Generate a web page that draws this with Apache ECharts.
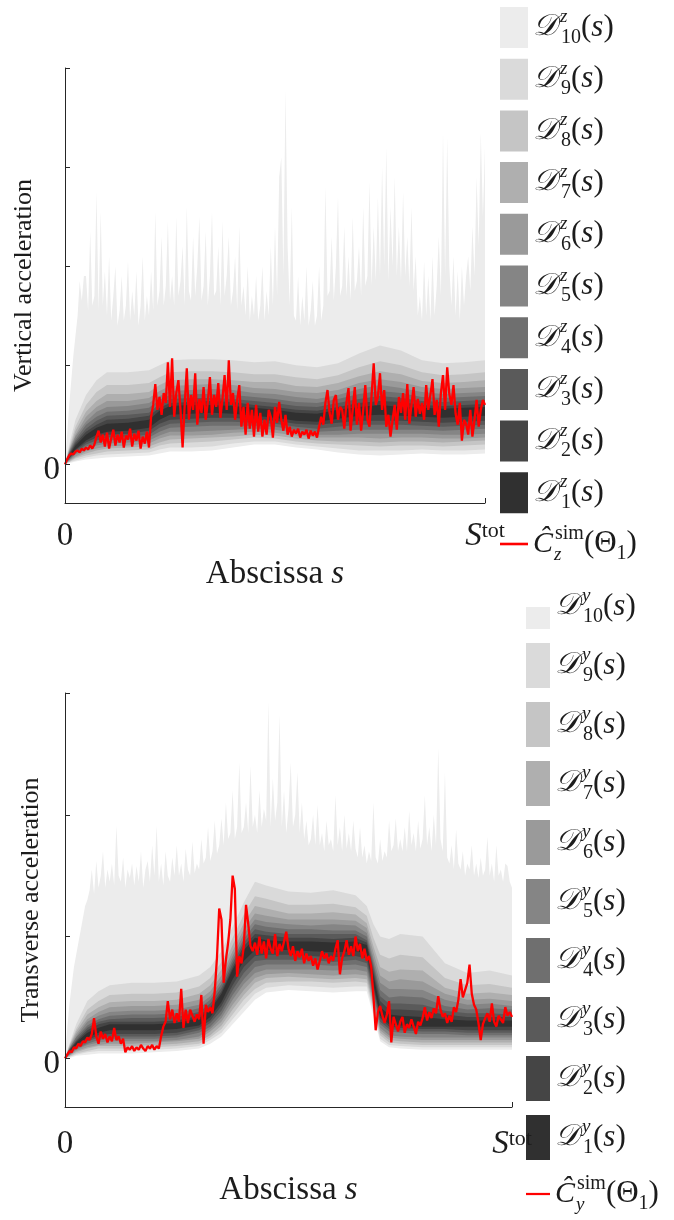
<!DOCTYPE html>
<html><head><meta charset="utf-8">
<script src="https://cdn.jsdelivr.net/npm/echarts@6/dist/echarts.min.js"></script>
<style>html,body{margin:0;padding:0;background:#fff}#c{width:674px;height:1220px}</style>
</head><body><div id="c"></div>
<script>
// ---------- data : top panel (vertical, z) ----------
const knotsZ = [0,1,2.5,5,7.5,10,15,20,22.5,25,30,35,40,45,50,55,60,65,70,75,80,85,90,95,100];
const U1z = [0,.09,.19,.30,.37,.41,.42,.45,.54,.59,.60,.60,.59,.57,.55,.52,.51,.55,.58,.60,.58,.57,.56,.57,.58];
const U2z = [0,.10,.21,.33,.40,.45,.46,.49,.57,.62,.63,.64,.63,.60,.58,.55,.54,.58,.62,.64,.63,.60,.59,.60,.61];
const U3z = [0,.11,.23,.36,.44,.49,.50,.52,.61,.66,.67,.67,.66,.64,.62,.59,.58,.62,.66,.69,.67,.64,.63,.64,.65];
const U4z = [0,.12,.25,.40,.48,.53,.54,.57,.65,.70,.71,.71,.70,.68,.66,.63,.62,.66,.71,.74,.72,.68,.67,.68,.69];
const U5z = [0,.13,.28,.43,.53,.58,.59,.62,.69,.74,.75,.76,.75,.72,.71,.68,.66,.70,.76,.80,.77,.73,.71,.72,.73];
const U6z = [0,.14,.30,.48,.58,.64,.64,.67,.74,.79,.80,.81,.80,.77,.76,.73,.72,.75,.82,.86,.83,.78,.76,.77,.78];
const U7z = [0,.15,.34,.53,.64,.71,.71,.73,.80,.85,.86,.86,.85,.83,.83,.79,.78,.82,.89,.94,.91,.84,.82,.83,.85];
const U8z = [0,.17,.38,.60,.73,.80,.80,.82,.88,.93,.94,.94,.93,.91,.91,.88,.86,.90,.98,1.04,1.00,.93,.90,.91,.93];
const U9z = [0,.20,.45,.70,.85,.93,.93,.95,1.00,1.05,1.06,1.06,1.05,1.03,1.04,1.00,.98,1.02,1.12,1.20,1.15,1.05,1.02,1.03,1.05];
const L1z = [0,.07,.15,.24,.30,.33,.34,.37,.45,.50,.51,.52,.51,.49,.47,.44,.43,.46,.49,.50,.49,.48,.47,.48,.49];
const L2z = [0,.06,.14,.22,.27,.30,.31,.34,.41,.45,.46,.47,.47,.45,.44,.41,.40,.42,.44,.44,.44,.43,.42,.43,.44];
const L3z = [0,.06,.12,.20,.24,.27,.28,.30,.37,.41,.42,.43,.43,.42,.41,.38,.36,.38,.40,.40,.40,.39,.38,.39,.40];
const L4z = [0,.05,.11,.18,.21,.24,.25,.27,.33,.37,.38,.39,.39,.39,.38,.35,.33,.34,.35,.35,.35,.35,.34,.35,.36];
const L5z = [0,.04,.10,.15,.19,.21,.22,.24,.29,.33,.33,.34,.35,.36,.35,.32,.30,.30,.31,.31,.31,.31,.30,.30,.31];
const L6z = [0,.04,.08,.13,.16,.18,.19,.21,.26,.29,.29,.30,.32,.33,.32,.29,.27,.27,.27,.26,.27,.27,.26,.26,.27];
const L7z = [0,.03,.07,.11,.14,.16,.17,.18,.22,.25,.26,.27,.28,.30,.29,.26,.24,.23,.23,.22,.23,.23,.22,.23,.24];
const L8z = [0,.02,.06,.09,.11,.13,.14,.15,.19,.21,.22,.23,.25,.27,.26,.23,.21,.20,.19,.18,.19,.19,.18,.19,.20];
const L9z = [0,.02,.04,.07,.09,.10,.11,.12,.15,.17,.17,.18,.21,.23,.23,.20,.18,.16,.14,.14,.14,.15,.14,.14,.15];
const L10z = [0,.01,.03,.05,.06,.07,.08,.09,.11,.13,.13,.14,.17,.20,.20,.17,.15,.12,.10,.09,.10,.11,.10,.10,.11];
// outer envelope of D10 (fine grid, step 0.5 of s)
const U10z = [
0,0.3,0.6,0.85,1.1,1.3,1.5,1.85,1.65,1.9,
1.9,1.55,2.35,1.6,1.7,2.75,1.55,2.55,1.6,1.95,
1.5,2.1,1.45,1.7,2.0,1.4,1.55,1.9,1.45,1.6,
2.05,1.45,1.75,1.5,1.95,1.4,1.6,2.1,1.45,1.7,
1.5,1.95,1.55,2.55,1.6,1.75,2.3,1.6,1.8,2.45,
1.65,1.9,1.6,2.5,1.7,1.85,2.2,1.6,2.6,1.75,
1.65,2.3,1.7,2.0,2.5,1.65,1.8,2.35,1.6,1.9,
2.55,1.7,1.75,2.2,1.6,2.45,1.7,1.9,2.3,1.6,
1.75,2.1,1.55,2.4,1.6,1.8,1.5,2.0,1.45,1.7,
1.5,1.9,1.45,1.6,2.0,1.45,1.75,1.5,2.2,1.6,
2.4,1.7,2.9,3.1,1.9,3.78,2.2,1.6,2.6,1.5,
1.45,1.9,1.4,1.7,1.45,2.0,1.4,1.55,1.85,1.4,
1.5,2.0,1.45,1.6,2.8,1.7,1.75,2.3,1.65,2.0,
2.7,1.7,1.8,2.4,1.7,2.1,1.65,2.5,1.75,1.85,
2.2,1.7,2.6,1.8,1.9,2.85,1.8,2.4,1.85,2.7,
1.9,3.0,2.0,3.2,1.85,2.6,2.0,2.9,1.9,2.4,
1.85,2.75,1.9,2.3,1.8,2.6,1.75,2.1,1.5,1.7,
1.45,2.05,1.5,1.9,1.45,2.1,1.5,1.8,2.3,1.7,
3.35,1.9,3.3,2.0,1.6,2.1,1.5,1.95,1.45,2.0,
1.6,1.9,2.1,1.75,2.4,1.9,2.9,2.2,3.35,2.5,
3.2];
const redZ = [
0.00,0.05,0.09,0.11,0.10,0.13,0.14,0.12,0.16,0.14,
0.17,0.15,0.19,0.16,0.20,0.28,0.34,0.22,0.30,0.18,
0.32,0.16,0.26,0.35,0.19,0.30,0.22,0.33,0.17,0.29,
0.25,0.36,0.18,0.31,0.24,0.34,0.16,0.28,0.21,0.33,
0.17,0.48,0.60,0.81,0.55,0.68,0.50,0.72,0.62,1.03,
0.58,1.07,0.48,0.72,0.85,0.55,0.17,0.60,0.97,0.45,
0.70,0.55,0.92,0.40,0.66,0.52,0.78,0.45,0.63,0.88,
0.50,0.70,0.58,0.82,0.47,0.66,0.90,0.55,1.05,0.60,
0.72,0.45,0.65,0.80,0.38,0.58,0.30,0.62,0.36,0.55,
0.28,0.60,0.33,0.52,0.28,0.45,0.30,0.55,0.48,0.27,
0.58,0.42,0.63,0.45,0.34,0.50,0.30,0.38,0.28,0.35,
0.31,0.36,0.27,0.33,0.30,0.35,0.26,0.34,0.29,0.33,
0.27,0.38,0.48,0.40,0.62,0.75,0.52,0.41,0.65,0.70,
0.45,0.58,0.55,0.36,0.62,0.77,0.34,0.55,0.78,0.40,
0.62,0.34,0.55,0.80,0.45,0.38,0.70,1.02,0.60,0.68,
0.92,0.55,0.75,0.38,0.50,0.28,0.45,0.60,0.35,0.68,
0.52,0.72,0.45,0.81,0.41,0.60,0.78,0.48,0.66,0.51,
0.62,0.45,0.80,0.55,0.70,0.86,0.50,0.65,0.38,0.72,
0.90,0.55,0.98,0.71,0.60,0.80,0.51,0.40,0.62,0.24,
0.45,0.41,0.30,0.55,0.28,0.45,0.65,0.38,0.55,0.65,
0.60];

// ---------- data : bottom panel (transverse, y) ----------
const knotsY = [0,1,2.5,5,7.5,10,15,20,25,30,32.5,35,37.5,40,42.5,45,50,55,60,65,67.5,69,70.5,72.5,75,80,85,90,95,100];
const U1y = [0,.06,.13,.21,.25,.28,.28,.28,.29,.33,.40,.53,.73,.89,.99,.97,.96,.96,.95,.96,.93,.68,.42,.36,.35,.34,.32,.31,.31,.31];
const U2y = [0,.07,.14,.23,.28,.30,.30,.30,.31,.35,.42,.55,.75,.92,1.02,1.01,.99,.99,.98,.99,.95,.71,.47,.40,.40,.39,.36,.34,.34,.34];
const U3y = [0,.07,.15,.25,.30,.32,.33,.33,.34,.38,.45,.58,.78,.95,1.06,1.04,1.02,1.02,1.02,1.02,.97,.75,.51,.45,.45,.44,.39,.37,.37,.36];
const U4y = [0,.08,.17,.27,.32,.35,.36,.36,.37,.41,.48,.61,.81,.98,1.10,1.08,1.06,1.06,1.05,1.05,1.00,.78,.56,.50,.51,.50,.43,.40,.41,.40];
const U5y = [0,.08,.18,.30,.35,.38,.39,.39,.40,.44,.51,.64,.84,1.02,1.14,1.12,1.10,1.09,1.10,1.09,1.03,.82,.62,.57,.57,.56,.48,.44,.45,.43];
const U6y = [0,.09,.20,.32,.38,.42,.43,.43,.44,.48,.55,.68,.88,1.06,1.19,1.17,1.14,1.14,1.14,1.13,1.07,.87,.68,.63,.65,.63,.53,.48,.49,.47];
const U7y = [0,.10,.22,.36,.42,.46,.47,.47,.48,.53,.60,.73,.93,1.11,1.25,1.23,1.19,1.19,1.20,1.18,1.11,.92,.75,.71,.73,.72,.58,.53,.54,.52];
const U8y = [0,.11,.24,.40,.47,.52,.53,.53,.54,.59,.66,.79,.99,1.18,1.33,1.31,1.26,1.26,1.27,1.24,1.17,.99,.85,.82,.85,.83,.66,.60,.61,.58];
const U9y = [0,.12,.28,.47,.55,.60,.62,.62,.63,.68,.75,.88,1.08,1.28,1.45,1.42,1.37,1.36,1.38,1.34,1.25,1.10,1.00,.98,1.02,1.00,.78,.70,.72,.68];
const L1y = [0,.05,.11,.17,.21,.23,.23,.23,.24,.27,.34,.46,.65,.80,.89,.89,.89,.88,.87,.88,.86,.61,.35,.28,.27,.26,.26,.26,.26,.26];
const L2y = [0,.05,.10,.15,.19,.20,.20,.20,.21,.25,.31,.43,.60,.75,.84,.85,.85,.84,.83,.84,.82,.58,.33,.26,.25,.24,.24,.23,.23,.23];
const L3y = [0,.04,.09,.14,.17,.18,.18,.18,.19,.23,.29,.39,.56,.70,.80,.81,.81,.81,.79,.81,.78,.55,.30,.24,.23,.22,.22,.21,.21,.21];
const L4y = [0,.03,.08,.12,.15,.16,.16,.16,.17,.21,.26,.36,.52,.65,.75,.77,.77,.77,.76,.77,.75,.52,.28,.22,.21,.20,.20,.19,.19,.19];
const L5y = [0,.03,.07,.11,.13,.14,.14,.14,.15,.18,.24,.33,.48,.61,.70,.73,.73,.73,.72,.73,.71,.49,.25,.19,.18,.17,.17,.17,.17,.17];
const L6y = [0,.02,.06,.09,.11,.12,.12,.13,.14,.16,.22,.30,.44,.56,.66,.69,.70,.69,.68,.69,.68,.46,.23,.17,.16,.15,.15,.15,.15,.15];
const L7y = [0,.02,.05,.08,.10,.10,.10,.11,.12,.14,.19,.27,.40,.52,.62,.66,.67,.66,.65,.66,.65,.44,.21,.15,.14,.13,.13,.13,.13,.13];
const L8y = [0,.01,.04,.06,.08,.08,.08,.09,.10,.12,.17,.24,.36,.48,.57,.62,.63,.63,.62,.63,.62,.41,.19,.13,.12,.11,.11,.11,.11,.11];
const L9y = [0,.01,.03,.05,.06,.06,.06,.07,.08,.10,.15,.21,.32,.43,.53,.58,.60,.59,.58,.59,.59,.38,.16,.11,.10,.09,.09,.09,.09,.09];
const L10y = [0,0,.02,.03,.04,.04,.04,.05,.06,.08,.12,.18,.28,.38,.48,.54,.56,.55,.54,.55,.55,.35,.14,.09,.08,.07,.07,.07,.07,.07];
const U10y = [
0,0.25,0.45,0.6,0.75,0.85,0.95,1.05,1.15,1.25,
1.3,1.38,1.55,1.35,1.62,1.4,1.5,1.7,1.4,1.55,
1.45,1.6,1.42,1.91,1.5,1.45,1.65,1.4,1.55,1.48,
1.6,1.42,1.58,1.45,1.7,1.4,1.55,1.62,1.45,1.75,
1.5,1.91,1.45,1.6,1.42,1.7,1.5,1.45,1.65,1.5,
1.75,1.5,1.6,1.45,1.72,1.55,1.5,1.78,1.52,1.6,
1.55,1.8,1.6,1.65,1.9,1.62,1.7,1.95,1.68,1.75,
1.97,1.75,2.1,1.8,1.85,2.2,1.8,1.9,2.43,1.85,
1.9,2.1,1.85,2.4,1.9,2.0,1.85,2.2,1.9,2.05,
1.95,2.93,1.9,2.3,1.95,2.1,2.82,1.9,2.2,1.85,
2.05,2.43,1.9,2.0,2.35,1.85,2.1,1.8,1.95,1.75,
1.8,2.0,1.75,2.08,1.75,1.85,1.7,1.95,1.75,1.8,
1.7,2.16,1.75,1.9,1.7,2.0,1.72,1.85,1.7,1.95,
1.72,1.65,1.9,1.65,1.75,1.6,1.7,1.62,2.1,1.65,
1.6,1.8,1.62,1.7,1.65,1.95,1.7,1.75,1.97,1.7,
1.8,1.7,1.9,1.7,2.03,1.75,1.85,1.7,1.95,1.72,
1.8,2.16,1.75,1.9,1.7,2.0,1.75,2.55,1.8,1.7,
2.35,1.65,1.6,1.75,1.55,1.88,1.6,1.55,1.7,1.5,
1.6,1.55,1.75,1.5,1.6,1.48,1.65,1.5,1.55,1.82,
1.5,1.6,1.45,1.75,1.5,1.55,1.45,1.6,1.58,1.45,
1.4];
const redY = [
0.00,0.03,0.06,0.05,0.09,0.08,0.12,0.10,0.14,0.13,
0.17,0.15,0.20,0.33,0.18,0.12,0.22,0.16,0.20,0.13,
0.18,0.14,0.25,0.15,0.18,0.12,0.16,0.05,0.09,0.07,
0.10,0.06,0.09,0.07,0.11,0.08,0.06,0.10,0.08,0.11,
0.07,0.10,0.08,0.18,0.26,0.30,0.47,0.32,0.40,0.29,
0.37,0.30,0.57,0.25,0.40,0.29,0.40,0.35,0.30,0.36,
0.32,0.52,0.12,0.44,0.38,0.42,0.37,0.55,0.83,1.23,
1.14,0.62,0.81,0.95,1.14,1.50,1.39,0.67,0.84,0.78,
0.92,1.26,1.10,0.92,0.88,0.95,0.85,1.00,0.86,0.96,
0.82,0.98,0.90,0.86,1.02,0.84,0.94,0.88,0.96,1.04,
0.90,0.84,0.92,0.80,0.88,0.83,0.90,0.78,0.86,0.80,
0.84,0.76,0.82,0.73,0.80,0.88,0.82,0.86,0.78,0.84,
0.80,0.90,0.97,0.69,0.82,0.88,0.97,0.85,0.92,0.84,
1.00,0.88,0.94,0.82,0.90,0.80,0.84,0.75,0.51,0.23,
0.38,0.43,0.35,0.29,0.36,0.47,0.13,0.34,0.28,0.22,
0.30,0.34,0.21,0.28,0.25,0.32,0.26,0.20,0.30,0.27,
0.33,0.42,0.31,0.38,0.33,0.41,0.37,0.51,0.40,0.34,
0.37,0.29,0.35,0.30,0.42,0.38,0.48,0.65,0.50,0.56,
0.62,0.77,0.53,0.44,0.40,0.29,0.15,0.28,0.33,0.37,
0.30,0.45,0.30,0.26,0.35,0.32,0.29,0.42,0.35,0.38,
0.34];

// band colours D1..D10
const bandColors = ['#303030','#454545','#5a5a5a','#6f6f6f','#858585','#9a9a9a','#afafaf','#c5c5c5','#dadada','#ececec'];
const redColor = '#ff0000';

// ---------- build ----------
const FONT = "'Liberation Serif','DejaVu Serif',serif";
const TXT = '#1c1c1c';
const sFine = U10z.map((_, i) => i * 0.5);
const pair = (xs, ys) => xs.map((x, i) => [x, ys[i]]);

function area(name, gi, data, color, z) {
  return {type:'line', name, xAxisIndex:gi, yAxisIndex:gi, data, symbol:'none', color,
    lineStyle:{width:0}, areaStyle:{color, opacity:1, origin:'start'}, silent:true, animation:false, z};
}
function panel(tag, gi, knots, U, L, U10, red) {
  const out = [];
  let z = 1;
  out.push(area('D'+tag+'10', gi, pair(sFine, U10), bandColors[9], z));
  for (let k = 9; k >= 1; k--) { z += 0.01; out.push(area('D'+tag+k, gi, pair(knots, U[k-1]), bandColors[k-1], z)); }
  for (let k = 1; k <= 10; k++) { z += 0.01; out.push(area('L'+tag+k, gi, pair(knots, L[k-1]), k < 10 ? bandColors[k] : '#ffffff', z)); }
  out.push({type:'line', name:'C'+tag, xAxisIndex:gi, yAxisIndex:gi, data:pair(sFine, red), symbol:'none',
    color:redColor, lineStyle:{width:2.3, color:redColor}, silent:true, animation:false, z:3});
  return out;
}
const series = [
  ...panel('z', 0, knotsZ, [U1z,U2z,U3z,U4z,U5z,U6z,U7z,U8z,U9z], [L1z,L2z,L3z,L4z,L5z,L6z,L7z,L8z,L9z,L10z], U10z, redZ),
  ...panel('y', 1, knotsY, [U1y,U2y,U3y,U4y,U5y,U6y,U7y,U8y,U9y], [L1y,L2y,L3y,L4y,L5y,L6y,L7y,L8y,L9y,L10y], U10y, redY)
];

const axisLineStyle = {color:'#262626', width:1};
function xAx(gi, labelMargin, titleGap) {
  return {type:'value', gridIndex:gi, min:0, max:100, z:6,
    axisLine:{show:true, onZero:false, lineStyle:axisLineStyle},
    axisTick:{show:true, inside:true, length:5, customValues:[0,100], lineStyle:axisLineStyle},
    splitLine:{show:false},
    axisLabel:{show:true, customValues:[0,100], margin:labelMargin,
      formatter: v => v === 0 ? '{n|0}' : '{S|S}{t|tot}',
      rich:{n:{fontFamily:FONT, fontSize:33, color:TXT},
            S:{fontFamily:FONT, fontSize:33, fontStyle:'italic', color:TXT},
            t:{fontFamily:FONT, fontSize:22, color:TXT, verticalAlign:'top', lineHeight:22}}},
    name:'{a|Abscissa }{i|s}', nameLocation:'middle', nameGap:titleGap, nameMoveOverlap:false,
    nameTextStyle:{rich:{a:{fontFamily:FONT, fontSize:33, color:TXT}, i:{fontFamily:FONT, fontSize:33, fontStyle:'italic', color:TXT}}}
  };
}
function yAx(gi, min, max, ticks, title, gap) {
  return {type:'value', gridIndex:gi, min, max, z:6,
    axisLine:{show:true, lineStyle:axisLineStyle},
    axisTick:{show:true, inside:true, length:5, customValues:ticks, lineStyle:axisLineStyle},
    splitLine:{show:false},
    axisLabel:{show:true, customValues:[0], margin:5, formatter:'{n|{value}}',
      rich:{n:{fontFamily:FONT, fontSize:33, color:TXT, padding:[12,0,0,0]}}},
    name:title, nameLocation:'middle', nameGap:gap, nameMoveOverlap:false,
    nameTextStyle:{fontFamily:FONT, fontSize:26, color:TXT}
  };
}
function legendLabel(name) {
  const ax = name.charAt(1);
  if (name.charAt(0) === 'D') return '{D|𝒟}{sp|' + ax + '}{sb|' + name.slice(2) + '}{p|(}{s|s}{p|)}';
  return '{C|Ĉ}{cb|' + ax + '}{cs|sim}{p|(Θ}{sb|1}{p|)}';
}
const legendRich = {
  D:{fontFamily:FONT, fontSize:30, fontStyle:'italic', color:TXT, lineHeight:40, padding:[0,3,0,0]},
  C:{fontFamily:FONT, fontSize:30, fontStyle:'italic', color:TXT, lineHeight:40, padding:[0,1,0,0]},
  sp:{fontFamily:FONT, fontSize:19, fontStyle:'italic', color:TXT, lineHeight:22, verticalAlign:'top', width:1},
  cb:{fontFamily:FONT, fontSize:19, fontStyle:'italic', color:TXT, lineHeight:22, verticalAlign:'bottom', width:1},
  cs:{fontFamily:FONT, fontSize:20, color:TXT, lineHeight:22, verticalAlign:'top'},
  sb:{fontFamily:FONT, fontSize:20, color:TXT, lineHeight:22, verticalAlign:'bottom'},
  p:{fontFamily:FONT, fontSize:31, color:TXT, lineHeight:40},
  s:{fontFamily:FONT, fontSize:31, fontStyle:'italic', color:TXT, lineHeight:40}
};
function legendData(tag) {
  const d = [];
  for (let k = 10; k >= 1; k--) d.push({name:'D'+tag+k, icon:'rect'});
  d.push({name:'C'+tag, icon:'path://M0,0L28,0L28,2.6L0,2.6Z'});
  return d;
}

const option = {
  backgroundColor:'#ffffff',
  animation:false,
  grid:[
    {left:65, top:68, width:420, height:435},
    {left:65, top:693, width:447, height:414}
  ],
  xAxis:[xAx(0, 17, 55), xAx(1, 21, 67)],
  yAxis:[
    yAx(0, -0.39, 4, [0,1,2,3,4], 'Vertical acceleration', 28),
    yAx(1, -0.4, 3, [0,1,2,3], 'Transverse acceleration', 21)
  ],
  legend:[
    {data:legendData('z'), orient:'vertical', left:500, top:7, itemWidth:28, itemHeight:41, itemGap:10.7,
     padding:0, selectedMode:false, formatter:legendLabel, textStyle:{rich:legendRich}},
    {data:legendData('y'), orient:'vertical', left:526, top:584, itemWidth:24, itemHeight:45, itemGap:14,
     padding:0, selectedMode:false, formatter:legendLabel, textStyle:{rich:legendRich}}
  ],
  graphic:[{type:'rect', shape:{x:522, y:578, width:32, height:29}, style:{fill:'#ffffff'}, z:100, silent:true}],
  series
};
const chart = echarts.init(document.getElementById('c'));
chart.setOption(option);
</script></body></html>
